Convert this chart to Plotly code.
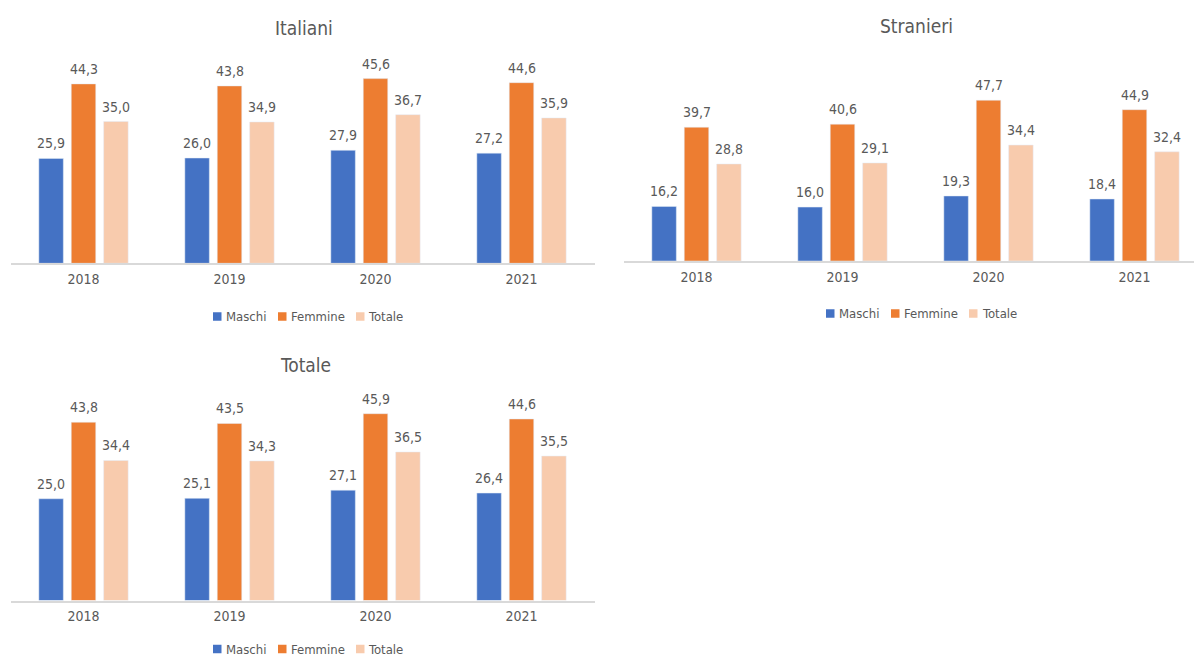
import plotly.graph_objects as go

# Anni di riferimento
anni = ["2018", "2019", "2020", "2021"]

# Italiani
ita_maschi = [25.9, 26.0, 27.9, 27.2]
ita_femmine = [44.3, 43.8, 45.6, 44.6]
ita_totale = [35.0, 34.9, 36.7, 35.9]

# Stranieri
str_maschi = [16.2, 16.0, 19.3, 18.4]
str_femmine = [39.7, 40.6, 47.7, 44.9]
str_totale = [28.8, 29.1, 34.4, 32.4]

# Totale
tot_maschi = [25.0, 25.1, 27.1, 26.4]
tot_femmine = [43.8, 43.5, 45.9, 44.6]
tot_totale = [34.4, 34.3, 36.5, 35.5]

serie = ["Maschi", "Femmine", "Totale"]
colori = ["#4472C4", "#ED7D31", "#F8CBAD"]

FONT = "DejaVu Sans Condensed, DejaVu Sans, sans-serif"
GREY = "#595959"
W, H = 1194, 658
BARGAP = 0.334
BARGROUPGAP = 0.244


def font(size):
    return dict(family=FONT, size=size, color=GREY)


def px_x(p):
    return p / W


def px_y(p):
    return 1 - p / H


# titolo, valori, assi, posizione titolo, posizione legenda (primo quadratino)
pannelli = [
    ("Italiani", [ita_maschi, ita_femmine, ita_totale], "x", "y", (304, 28), (213, 316.5)),
    ("Stranieri", [str_maschi, str_femmine, str_totale], "x2", "y2", (916, 26), (826, 313.5)),
    ("Totale", [tot_maschi, tot_femmine, tot_totale], "x3", "y3", (305, 365), (213, 649)),
]

fig = go.Figure()
slot = (1 - BARGAP) / len(serie)
for titolo, valori, xa, ya, _, _ in pannelli:
    for k, (nome, v, col) in enumerate(zip(serie, valori, colori)):
        fig.add_trace(go.Bar(
            x=anni, y=v, name=nome, marker_color=col,
            xaxis=xa, yaxis=ya, showlegend=False,
            hovertemplate=nome + " %{x}: %{y:.1f}<extra></extra>",
        ))
        # etichette dei valori sopra le barre
        for i, val in enumerate(v):
            fig.add_annotation(
                x=i + (k - 1) * slot, y=val, xref=xa, yref=ya,
                text=f"{val:.1f}".replace(".", ","),
                showarrow=False, xanchor="center", yanchor="bottom",
                yshift=5, font=font(14),
            )

asse_x = dict(
    type="category", showgrid=False, zeroline=False,
    showline=True, linecolor="#D9D9D9", linewidth=1.5,
    ticks="", ticklabelstandoff=2,
    tickfont=font(14),
    fixedrange=True,
)
asse_y = dict(visible=False, showgrid=False, zeroline=False, fixedrange=True)

fig.update_layout(
    width=W, height=H,
    margin=dict(l=0, r=0, t=0, b=0),
    paper_bgcolor="white", plot_bgcolor="white",
    barmode="group", bargap=BARGAP, bargroupgap=BARGROUPGAP,
    showlegend=False,
    xaxis=dict(asse_x, domain=[px_x(10.5), px_x(594.5)], range=[-0.5, 3.5], anchor="y"),
    yaxis=dict(asse_y, domain=[px_y(263.3), px_y(60.8)], range=[0, 50], anchor="x"),
    xaxis2=dict(asse_x, domain=[px_x(623.5), 1.0], range=[-0.5, 3.5 - (1207.5 - W) / 146], anchor="y2"),
    yaxis2=dict(asse_y, domain=[px_y(261), px_y(74)], range=[0, 187 / 3.37], anchor="x2"),
    xaxis3=dict(asse_x, domain=[px_x(10.5), px_x(594.5)], range=[-0.5, 3.5], anchor="y3"),
    yaxis3=dict(asse_y, domain=[px_y(600.5), px_y(397)], range=[0, 50], anchor="x3"),
)

# titoli dei pannelli e legende
offs_legenda = [0, 65, 143]
LATO = 8.5
for titolo, _, _, _, (cx, cy), (lx, ly) in pannelli:
    fig.add_annotation(
        text=titolo, x=px_x(cx), y=px_y(cy), xref="paper", yref="paper",
        xanchor="center", yanchor="middle", showarrow=False,
        font=font(19),
    )
    for nome, col, dx in zip(serie, colori, offs_legenda):
        x0 = lx + dx
        fig.add_shape(
            type="rect", xref="paper", yref="paper",
            x0=px_x(x0), x1=px_x(x0 + LATO),
            y0=px_y(ly - LATO / 2), y1=px_y(ly + LATO / 2),
            fillcolor=col, line_width=0,
        )
        fig.add_annotation(
            text=nome, x=px_x(x0 + LATO + 3), y=px_y(ly),
            xref="paper", yref="paper", xanchor="left", yanchor="middle",
            showarrow=False, font=font(13), borderpad=0,
        )

fig.write_html("out.html", config={"displayModeBar": False})
